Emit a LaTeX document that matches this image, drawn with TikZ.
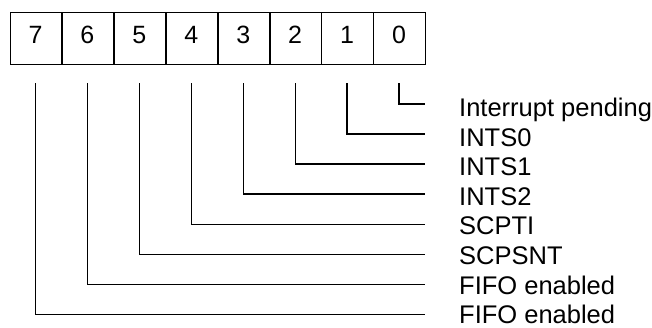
\documentclass[tikz,border=0pt]{standalone}
\usepackage{fontspec}
\setmainfont{Liberation Sans}
\begin{document}
\begin{tikzpicture}[x=1pt,y=-1pt,
  cellbox/.style={draw,line width=1.3pt,minimum width=51.94pt,minimum height=52pt,inner sep=0pt,anchor=north west},
  digit/.style={font=\fontsize{25}{25}\selectfont,anchor=base,inner sep=0pt},
  lab/.style={font=\fontsize{25.5}{25.5}\selectfont,anchor=base west,inner sep=0pt},
  wire/.style={line width=1.3pt}]
\useasboundingbox (0,0) rectangle (652,327);
\foreach \b [count=\i from 0] in {7,6,5,4,3,2,1,0} {
  \node[cellbox] (c\b) at ({9.5+51.94*\i},12) {};
  \node[digit] (d\b) at ({9.5+51.94*(\i+0.5)},43.5) {\b};
  \coordinate (t\b) at ({9.5+51.94*(\i+0.5)},83);
}
\foreach \b/\txt [count=\k from 0] in {0/Interrupt pending,1/INTS0,2/INTS1,3/INTS2,4/SCPTI,5/SCPSNT,6/FIFO enabled,7/FIFO enabled} {
  \coordinate (e\b) at (425,{104+30.04*\k});
  \node[lab] (l\b) at (459,{116.5+29.6*\k}) {\txt};
  \draw[wire] (t\b) |- (e\b);
}
\end{tikzpicture}
\end{document}
